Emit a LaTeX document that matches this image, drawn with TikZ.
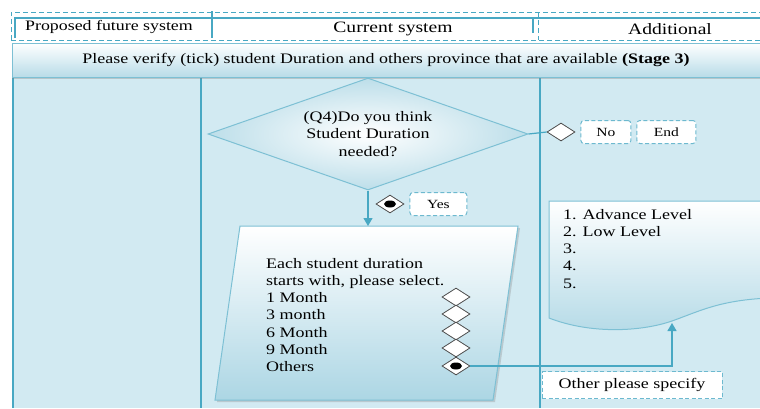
\documentclass[tikz,border=0pt]{standalone}
\usepackage{fontspec}
\setmainfont{Liberation Serif}[FakeStretch=1.24]
\usetikzlibrary{arrows.meta, positioning, shapes.geometric, shadows}

\definecolor{lanebg}{RGB}{210,234,242}
\definecolor{laneteal}{RGB}{72,168,195}
\definecolor{shapeedge}{RGB}{125,192,212}
\definecolor{shapeblue}{RGB}{172,214,228}

\begin{document}
\begin{tikzpicture}[x=1pt, y=-1pt, node distance=5pt,
        lane_line/.style={draw=laneteal, line width=2pt},
        hdr_dash/.style={draw=laneteal, line width=1pt, dash pattern=on 5pt off 3pt},
        hdr_label/.style={font=\fontsize{15.8}{18}\selectfont},
        body_text/.style={font=\fontsize{14.5}{17.2}\selectfont, align=left},
        tag_box/.style={draw=laneteal!80, fill=white, line width=1pt, dash pattern=on 4pt off 2.5pt,
            rounded corners=3pt, font=\fontsize{12.5}{14}\selectfont, minimum height=23pt},
        chk/.style={draw=black!70, fill=white, line width=0.8pt, diamond, aspect=1.6, inner sep=0pt,
            minimum width=28pt, minimum height=18pt},
        chk_on/.style={chk, path picture={\fill[black] (path picture bounding box.center) ellipse (6pt and 3.5pt);}},
        flow_line/.style={draw=laneteal, line width=1.2pt},
        flow_arrow/.style={flow_line, -{Triangle[length=8pt, width=9pt]}}]

        \useasboundingbox (0,0) rectangle (760,408);
        \clip (0,0) rectangle (760,408);

        % Swimlane header
        \fill[white] (0,0) rectangle (760,43);
        \draw[lane_line, line width=1.5pt] (15,38) -- (15,18) -- (760,18);
        \draw[lane_line, line width=1.5pt] (212,11) -- (212,38);
        \draw[lane_line, line width=1.5pt] (533,18) -- (533,33);
        \draw[hdr_dash] (11,40) -- (11,12) -- (770,12);
        \draw[hdr_dash] (11,40) -- (770,40);
        \draw[hdr_dash] (538,12) -- (538,40);
        \node[font=\fontsize{14.4}{16}\selectfont] (h_prop) at (109,27) {Proposed future system};
        \node[hdr_label] (h_cur) at (393,29) {Current system};
        \node[hdr_label] (h_add) at (670,29) {Additional};

        % Lane body and separators
        \fill[lanebg] (14,77) rectangle (760,408);
        \draw[lane_line] (201,77) -- (201,408);
        \draw[lane_line] (540,77) -- (540,408);
        \draw[lane_line, line width=2.5pt] (13,43) -- (13,408);

        % Stage banner
        \node[top color=white, bottom color=shapeblue!85, draw=shapeedge, line width=0.6pt,
            drop shadow={shadow xshift=0pt, shadow yshift=-2pt, opacity=0.35},
            minimum width=748pt, minimum height=34pt, inner sep=0pt, font=\fontsize{14.5}{16}\selectfont] (banner) at (386,60)
            {Please verify (tick) student Duration and others province that are available {\bfseries(Stage 3)}};

        % Decision
        \node[diamond, aspect=2.86, inner sep=0pt, minimum width=320pt, minimum height=112pt,
            draw=shapeedge, line width=1pt, inner color=white, outer color=shapeblue!80,
            body_text, align=center] (q4) at (368,134) {(Q4)Do you think\\Student Duration\\needed?};

        \node[chk] (no_chk) at (561,132) {};
        \node[tag_box, minimum width=50pt, right=of no_chk] (no_box) {No};
        \node[tag_box, minimum width=59pt, right=of no_box] (end_box) {End};
        \draw[flow_line] (q4.east) -- (no_chk.west);

        \node[chk_on] (yes_chk) at (390,204) {};
        \node[tag_box, minimum width=57pt, right=of yes_chk] (yes_box) {Yes};

        % Duration input (parallelogram)
        \draw[draw=shapeedge, line width=1pt, top color=white, bottom color=shapeblue,
            drop shadow={shadow xshift=2pt, shadow yshift=-2pt, opacity=0.3}]
            (240,226) -- (518,226) -- (493,400) -- (215,400) -- cycle;
        \coordinate (dur_top) at (368,226);
        \draw[flow_arrow] (q4.south) -- (dur_top);

        \node[body_text, inner sep=0pt, anchor=north west] (dur_text) at (266,258)
            {Each student duration\\starts with, please select.\\1 Month\\3 month\\6 Month\\9 Month\\Others};
        \node[chk] (chk_one) at (456,297) {};
        \node[chk] (chk_three) at (456,314) {};
        \node[chk] (chk_six) at (456,331) {};
        \node[chk] (chk_nine) at (456,348) {};
        \node[chk_on] (chk_oth) at (456,366) {};

        % Additional list (document)
        \draw[draw=shapeedge, line width=1pt, top color=white, bottom color=shapeblue!90]
            (549,318) -- (549,201) -- (770,201) -- (770,298)
            .. controls (720,300) and (700,311) .. (672,321)
            .. controls (640,332) and (590,334) .. (549,318) -- cycle;
        \coordinate (doc_in) at (672,323);
        \node[body_text, inner sep=0pt, anchor=north west] (doc_list) at (563,209)
            {1. Advance Level\\2. Low Level\\3.\\4.\\5.};

        \node[draw=laneteal!80, fill=white, line width=1pt, dash pattern=on 4pt off 2.5pt,
            minimum width=180pt, minimum height=27pt, body_text] (spec) at (632,385) {Other please specify};
        \draw[flow_arrow] (chk_oth.east) -| (doc_in);
    \end{tikzpicture}
\end{document}
